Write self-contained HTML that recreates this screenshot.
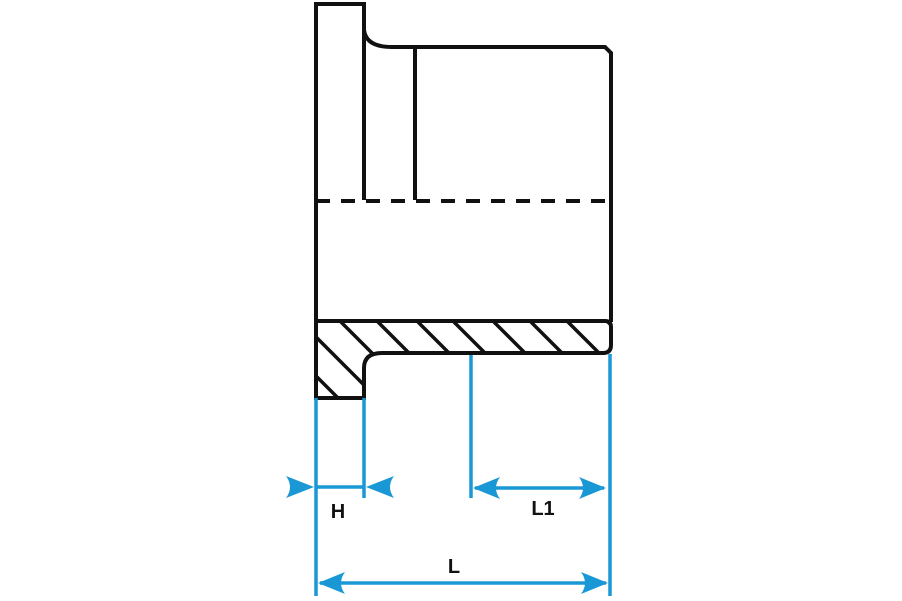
<!DOCTYPE html>
<html><head><style>html,body{margin:0;padding:0;background:#fff}svg{display:block}</style></head>
<body>
<svg width="902" height="601" viewBox="0 0 902 601" xmlns="http://www.w3.org/2000/svg">
<defs>
<clipPath id="sec"><path d="M316,321 L605,321 Q611,321 611,327 L611,345 Q611,353 603,353 L382,353 Q364,353 364,368 L364,398 L316,398 Z"/></clipPath>
</defs>
<g fill="none" stroke="#111" stroke-width="4">
<path d="M316,398 L316,4 L364,4 L364,30 Q366,47 392,47 L605,47 L611,53 L611,322"/>
<line x1="364" y1="30" x2="364" y2="200"/>
<line x1="415" y1="47" x2="415" y2="200"/>
<line x1="316" y1="201" x2="610" y2="201" stroke-dasharray="14,11"/>
<g clip-path="url(#sec)" stroke-width="3.5">
<line x1="300" y1="360" x2="345" y2="405"/>
<line x1="300" y1="321" x2="380" y2="401"/>
<line x1="340" y1="321" x2="380" y2="361"/>
<line x1="377" y1="321" x2="420" y2="364"/>
<line x1="417" y1="321" x2="460" y2="364"/>
<line x1="453" y1="321" x2="496" y2="364"/>
<line x1="493" y1="321" x2="536" y2="364"/>
<line x1="530" y1="321" x2="573" y2="364"/>
<line x1="567" y1="321" x2="610" y2="364"/>
<line x1="602" y1="316" x2="640" y2="354"/>
</g>
<path d="M316,321 L605,321 Q611,321 611,327 L611,345 Q611,353 603,353 L382,353 Q364,353 364,368 L364,398 L316,398 Z"/>
</g>
<g stroke="#1a98d5" stroke-width="3.5" fill="none">
<line x1="316" y1="398" x2="316" y2="596"/>
<line x1="364" y1="398" x2="364" y2="498"/>
<line x1="471" y1="355" x2="471" y2="498"/>
<line x1="610" y1="354" x2="610" y2="596"/>
<line x1="316" y1="487" x2="364" y2="487"/>
<line x1="475" y1="488" x2="604" y2="488"/>
<line x1="320" y1="583" x2="606" y2="583"/>
</g>
<g fill="#1a98d5">
<path d="M314,487 L286,476 Q294,487 286,498 Z"/>
<path d="M366,487 L394,476 Q386,487 394,498 Z"/>
<path d="M473,488 L500,477 Q492,488 500,499 Z"/>
<path d="M606,488 L579,477 Q587,488 579,499 Z"/>
<path d="M318,583 L345,572 Q337,583 345,594 Z"/>
<path d="M608,583 L581,572 Q589,583 581,594 Z"/>
</g>
<g font-family="Liberation Sans, sans-serif" font-weight="bold" font-size="20" fill="#111" text-anchor="middle">
<text x="338" y="518">H</text>
<text x="543" y="515">L1</text>
<text x="454" y="573">L</text>
</g>
</svg>
</body></html>
